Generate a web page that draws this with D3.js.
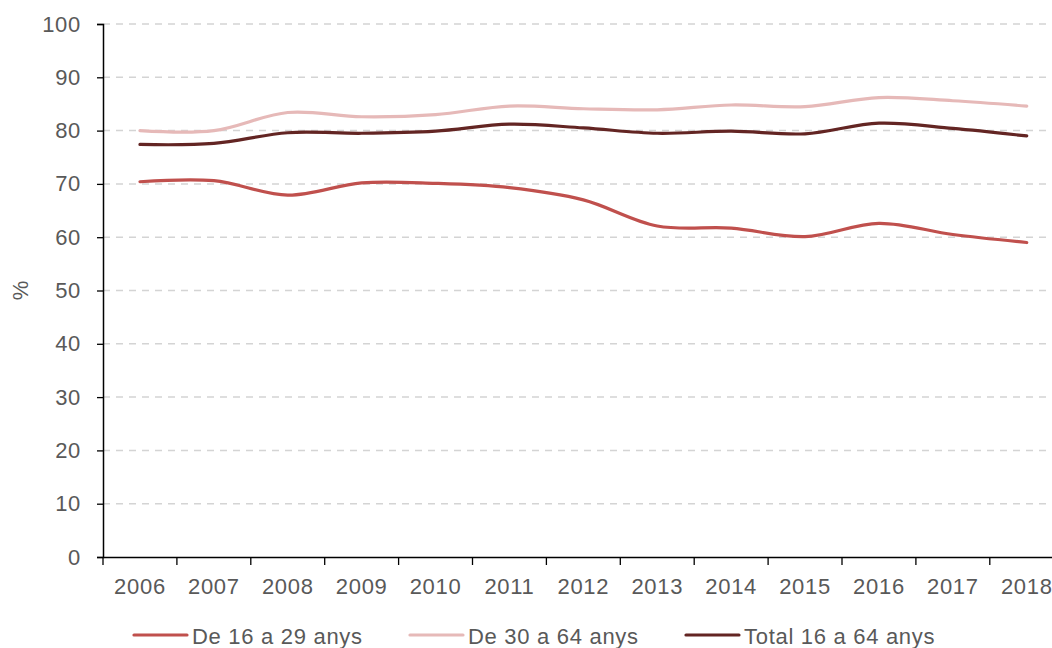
<!DOCTYPE html>
<html>
<head>
<meta charset="utf-8">
<script src="https://cdn.jsdelivr.net/npm/d3@7"></script>
<style>
  body { margin: 0; background: #fff; }
  svg text { font-family: "Liberation Sans", Arial, sans-serif; fill: #595959; }
</style>
</head>
<body>
<svg id="chart" width="1052" height="648"></svg>
<script>
// Data
const years = ["2006", "2007", "2008", "2009", "2010", "2011", "2012",
               "2013", "2014", "2015", "2016", "2017", "2018"];
const young = [70.4, 70.6, 67.9, 70.2, 70.1, 69.3, 67.0, 62.1, 61.7, 60.1, 62.6, 60.5, 59.0];
const adults = [80.0, 80.0, 83.4, 82.6, 83.0, 84.6, 84.1, 83.9, 84.8, 84.5, 86.2, 85.6, 84.6];
const total = [77.4, 77.6, 79.6, 79.5, 79.9, 81.2, 80.5, 79.5, 79.9, 79.4, 81.4, 80.4, 79.0];
const seriesNames = ["De 16 a 29 anys", "De 30 a 64 anys", "Total 16 a 64 anys"];
const yTicks = [0, 10, 20, 30, 40, 50, 60, 70, 80, 90, 100];

const colors = ["#C0504D", "#E6B9B8", "#632523"];
const series = [young, adults, total];

const svg = d3.select("#chart"),
      margin = {top: 24, left: 103},
      bandW = 73.9,
      plotH = 533,
      fontSize = "22px",
      spacing = "0.7px";

// Plot runs past the right edge of the picture, as in the reference
const x = d3.scaleBand().domain(years).range([margin.left, margin.left + bandW * years.length]);
const y = d3.scaleLinear().domain([0, 100]).range([margin.top + plotH, margin.top]);

// Dashed horizontal gridlines
svg.append("g")
  .selectAll("line")
  .data(yTicks.filter(d => d > 0))
  .enter()
  .append("line")
  .attr("x1", margin.left)
  .attr("x2", 1052)
  .attr("y1", d => y(d))
  .attr("y2", d => y(d))
  .attr("stroke", "#D4D4D4")
  .attr("stroke-width", 1.5)
  .attr("stroke-dasharray", "7,6");

// Y axis
const yAxis = svg.append("g")
  .attr("transform", `translate(${margin.left},0)`)
  .call(d3.axisLeft(y).tickValues(yTicks).tickSize(6).tickPadding(16));
yAxis.selectAll("text")
  .style("font-size", fontSize)
  .style("letter-spacing", spacing)
  .attr("fill", "#595959");

// X axis, ticks between categories
const xAxis = svg.append("g")
  .attr("transform", `translate(0,${y(0)})`)
  .call(d3.axisBottom(x).tickSize(0).tickPadding(21));
xAxis.selectAll("text")
  .style("font-size", fontSize)
  .style("letter-spacing", spacing)
  .attr("fill", "#595959");
xAxis.selectAll(".sep")
  .data(years)
  .enter()
  .append("line")
  .attr("class", "sep")
  .attr("x1", d => x(d))
  .attr("x2", d => x(d))
  .attr("y1", 0)
  .attr("y2", 8)
  .attr("stroke", "#000")
  .attr("stroke-width", 1.3);

svg.selectAll(".domain").attr("stroke", "#000").attr("stroke-width", 1.5);
svg.selectAll(".tick line").attr("stroke", "#000").attr("stroke-width", 1.3);

// Y axis title
svg.append("text")
  .attr("transform", `translate(28,${y(50)}) rotate(-90)`)
  .attr("text-anchor", "middle")
  .style("font-size", fontSize)
  .text("%");

// Smoothed lines
const line = d3.line()
  .x((d, i) => x(years[i]) + x.bandwidth() / 2)
  .y(d => y(d))
  .curve(d3.curveCatmullRom.alpha(0.5));

series.forEach((s, i) => {
  svg.append("path")
    .attr("d", line(s))
    .attr("fill", "none")
    .attr("stroke", colors[i])
    .attr("stroke-width", 3.2)
    .attr("stroke-linecap", "round");
});

// Legend
const legendX = [134, 410, 686];
const legend = svg.append("g")
  .selectAll("g")
  .data(seriesNames)
  .enter()
  .append("g")
  .attr("transform", (d, i) => `translate(${legendX[i]},635)`);
legend.append("line")
  .attr("x1", 0)
  .attr("x2", 53)
  .attr("stroke", (d, i) => colors[i])
  .attr("stroke-width", 3.2)
  .attr("stroke-linecap", "round");
legend.append("text")
  .attr("x", 58)
  .attr("y", 9)
  .style("font-size", fontSize)
  .style("letter-spacing", spacing)
  .text(d => d);
</script>
</body>
</html>
